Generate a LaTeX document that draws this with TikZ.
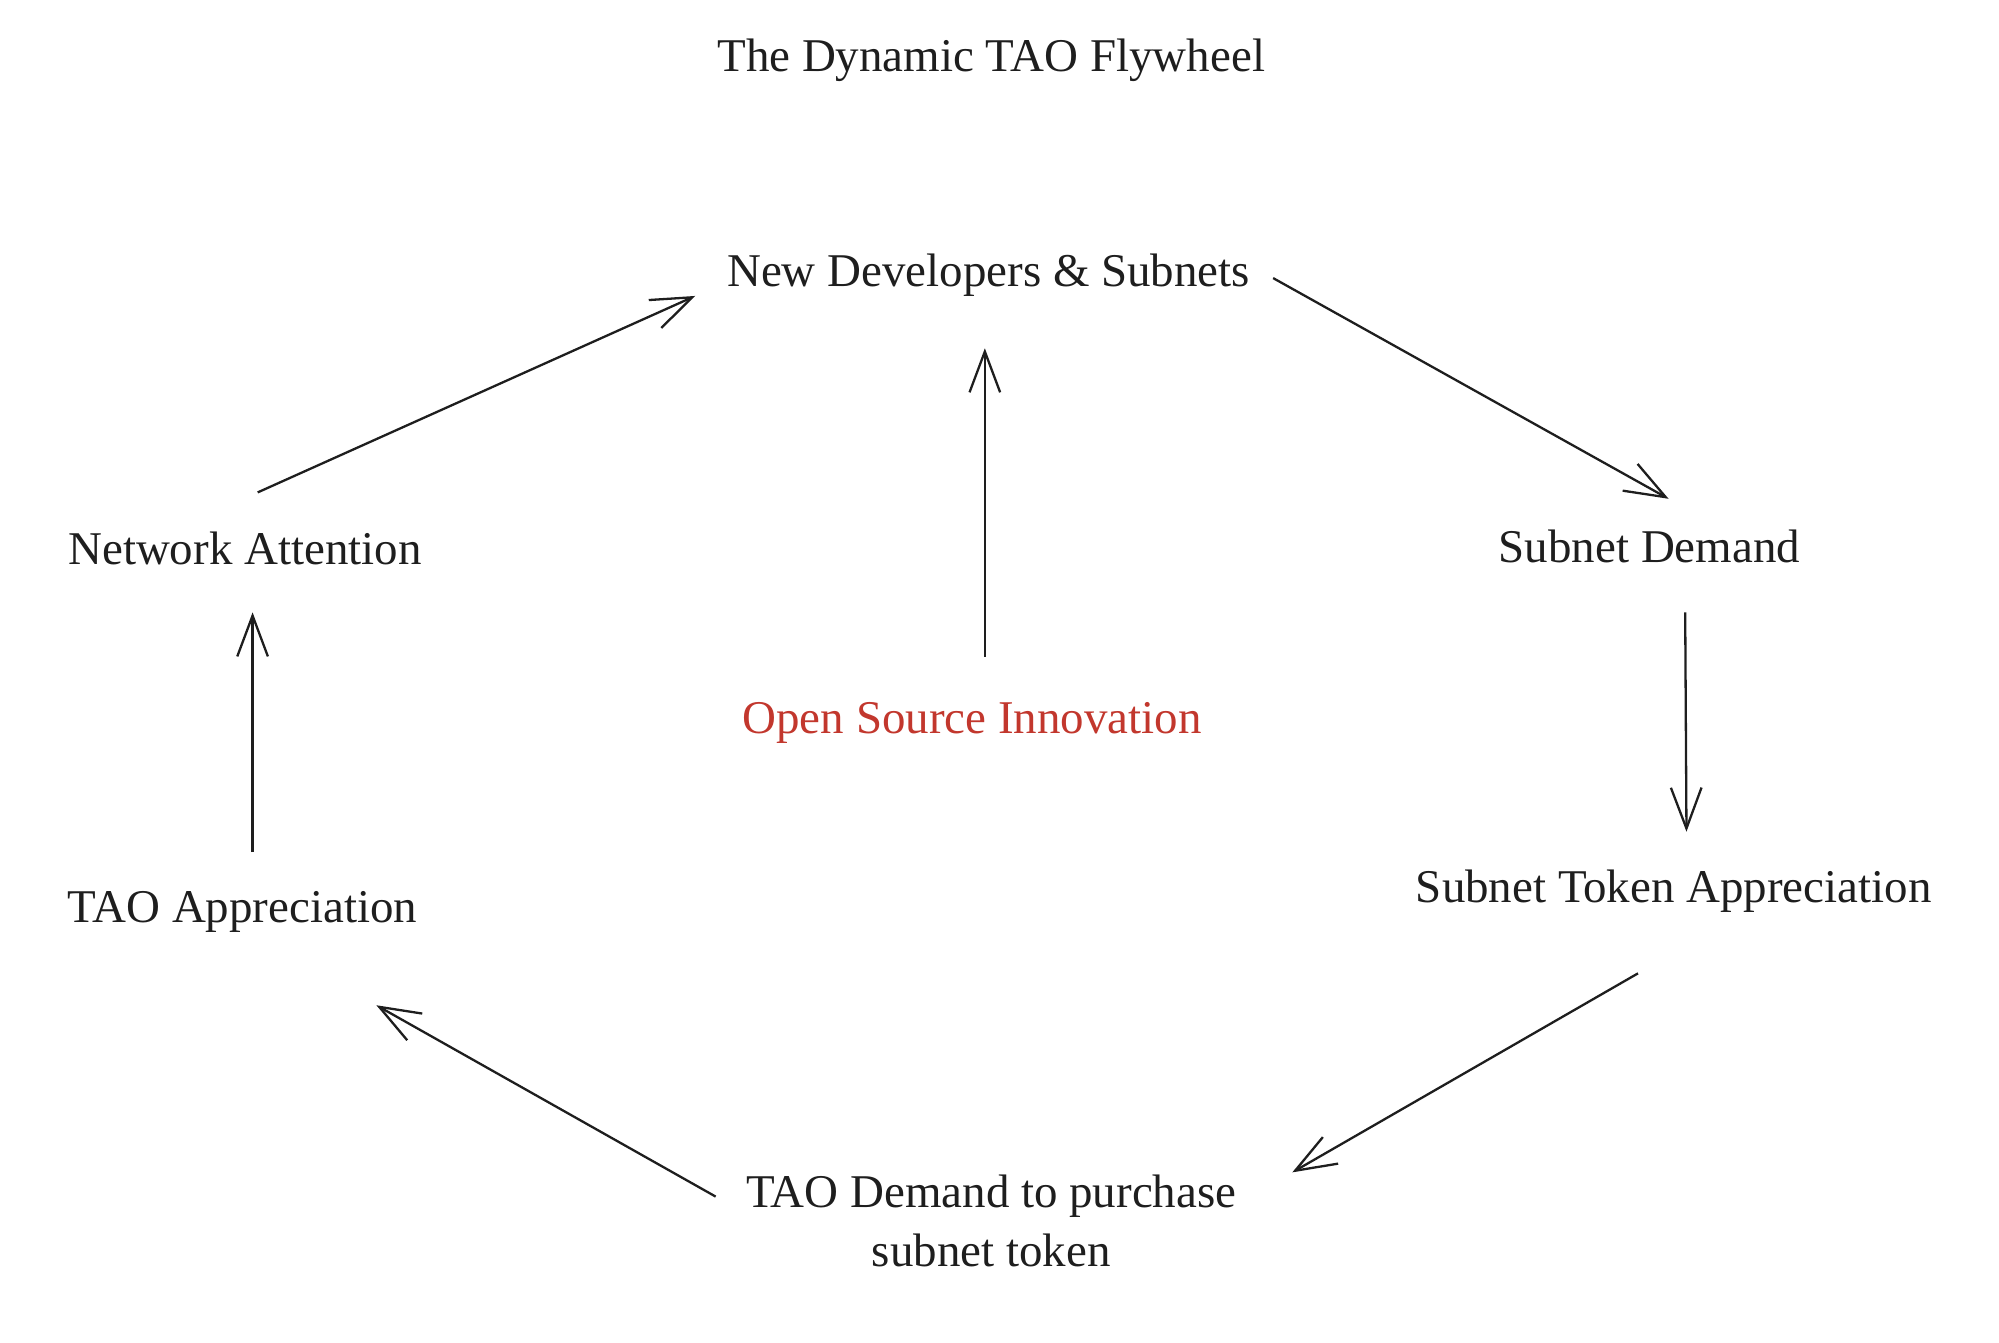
\documentclass[tikz,border=0pt]{standalone}
\usepackage{fontspec}
\setmainfont{Liberation Serif}
\usetikzlibrary{arrows.meta,calc}
\definecolor{redtxt}{HTML}{C2372D}
\definecolor{ink}{HTML}{1E1E1E}
\begin{document}
\begin{tikzpicture}[x=0.5pt,y=-0.5pt,
  lbl/.style={font=\fontsize{18.4}{22}\selectfont,text=ink,inner sep=0pt,align=center},
  arr/.style={draw=ink,line width=0.9pt,-{Straight Barb[length=16pt,width=12pt,line width=0.9pt]}}]
\useasboundingbox (0,0) rectangle (1567,1052);
\node[lbl] (title) at (777,47) {The Dynamic TAO Flywheel};
\node[lbl] (nd) at (775,216) {New Developers \& Subnets};
\node[lbl] (na) at (192,430) {Network Attention};
\node[lbl] (sd) at (1293,428) {Subnet Demand};
\node[lbl,text=redtxt] (os) at (762,567) {Open Source Innovation};
\node[lbl] (ta) at (190,715) {TAO Appreciation};
\node[lbl] (st) at (1312,699) {Subnet Token Appreciation};
\node[lbl,font=\fontsize{18.4}{23}\selectfont] (td) at (777,957) {TAO Demand to purchase\\subnet token};
% connector end points
\coordinate (a1s) at (202,386); \coordinate (a1e) at (545,232);
\coordinate (a2s) at (772,515); \coordinate (a2e) at (772,273);
\coordinate (a3s) at (998,218); \coordinate (a3e) at (1308,391);
\coordinate (a4s) at (1321,480); \coordinate (a4e) at (1322,652);
\coordinate (a5s) at (1284,763); \coordinate (a5e) at (1013,919);
\coordinate (a6s) at (561,938); \coordinate (a6e) at (295,788);
\coordinate (a7s) at (198,668); \coordinate (a7e) at (198,480);
\draw[arr] (a1s) -- (a1e);
\draw[arr] (a2s) -- (a2e);
\draw[arr] (a3s) -- (a3e);
\draw[arr] (a4s) -- (a4e);
\draw[arr] (a5s) -- (a5e);
\draw[arr] (a6s) -- (a6e);
\draw[arr] (a7s) -- (a7e);
\end{tikzpicture}
\end{document}
